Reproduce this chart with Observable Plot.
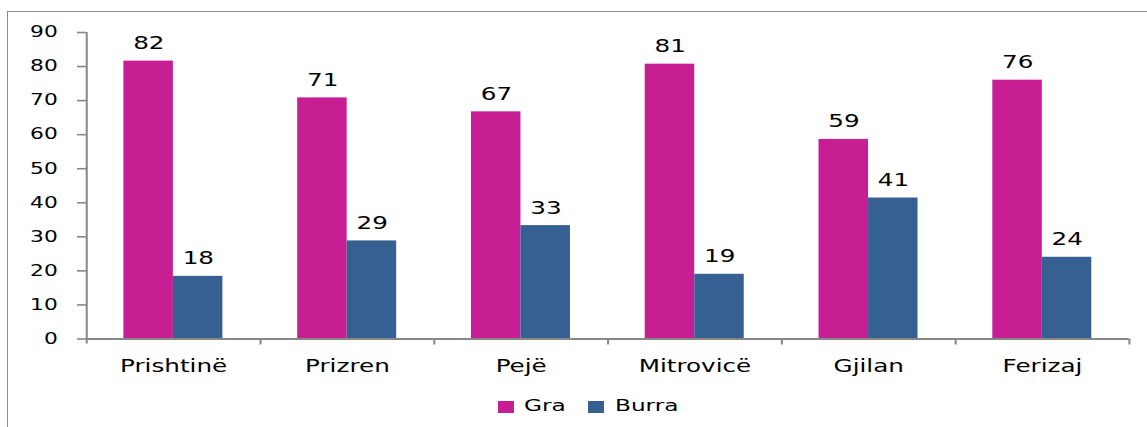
<!DOCTYPE html>
<html>
<head>
<meta charset="utf-8">
<script src="https://cdn.jsdelivr.net/npm/d3@7"></script>
<script src="https://cdn.jsdelivr.net/npm/@observablehq/plot@0.6"></script>
<style>
  html, body { margin: 0; padding: 0; background: #fff; overflow: hidden; }
  #wrap { position: relative; width: 1147px; height: 427px; font-family: "DejaVu Sans", sans-serif; }
  #frame { position: absolute; left: 7px; top: 11px; width: 1300px; height: 600px; border: 1.5px solid #8c8c8c; box-sizing: border-box; pointer-events: none; }
  #chart svg { display: block; }
  #legend { position: relative; height: 42px; font-size: 16px; color: #000; }
  #legend .sw { position: absolute; top: 16px; width: 16px; height: 12px; }
  #legend .lab { position: absolute; top: 11px; line-height: 19px; transform-origin: 0 50%; white-space: nowrap; }
</style>
</head>
<body>
<div id="wrap">
  <div id="chart"></div>
  <div id="legend"></div>
  <div id="frame"></div>
</div>
<script>
// ---- data ----
const cities = ["Prishtinë", "Prizren", "Pejë", "Mitrovicë", "Gjilan", "Ferizaj"];
const gra    = [81.6, 70.8, 66.7, 80.7, 58.6, 76.0];
const burra  = [18.4, 28.8, 33.3, 19.0, 41.4, 24.0];
const seriesNames = ["Gra", "Burra"];
const seriesColors = ["#C71E94", "#356091"];
const yTicks = [0, 10, 20, 30, 40, 50, 60, 70, 80, 90];

const rows = cities.map((c, i) => ({city: c, gra: gra[i], burra: burra[i]}));

// ---- layout (drawn narrower, then stretched horizontally like the original) ----
const S = 1.45;
const W = 1147, H = 385;
const Wp = W / S;
const ML = 86 / S, MR = 18.3 / S, MT = 32, MB = 46.5;
const step = (Wp - ML - MR) / cities.length;
const bw = 49.5 / S;
const pad = (step - 2 * bw) / 2;
const axisColor = "#878787";

const plot = Plot.plot({
  width: Wp,
  height: H,
  marginLeft: ML,
  marginRight: MR,
  marginTop: MT,
  marginBottom: MB,
  style: { fontFamily: "DejaVu Sans, sans-serif", fontSize: "17px", color: "#000", background: "transparent" },
  x: { domain: cities, padding: 0, round: false, label: null },
  y: { domain: [0, 90], label: null },
  marks: [
    Plot.barY(rows, { x: "city", y: "gra", fill: seriesColors[0], insetLeft: pad, insetRight: step - pad - bw }),
    Plot.barY(rows, { x: "city", y: "burra", fill: seriesColors[1], insetLeft: pad + bw, insetRight: pad }),
    Plot.text(rows, { x: "city", y: "gra", text: d => String(Math.round(d.gra)), dx: -bw / 2, dy: -12, lineAnchor: "bottom", fontSize: 17, fill: "#000" }),
    Plot.text(rows, { x: "city", y: "burra", text: d => String(Math.round(d.burra)), dx: bw / 2, dy: -12, lineAnchor: "bottom", fontSize: 17, fill: "#000" }),
    Plot.axisY({ ticks: yTicks, tickSize: 9 / S, tickPadding: 20 / S, fontSize: 15, stroke: axisColor, strokeWidth: 1.6, tickFormat: d => String(d), label: null }),
    Plot.axisX({ tickSize: 0, tickPadding: 21.4, fontSize: 17, label: null }),
    Plot.ruleY([0], { stroke: axisColor, strokeWidth: 2 }),
    Plot.ruleX([cities[0]], { y1: 90, y2: 0, dx: -step / 2, insetBottom: -5, stroke: axisColor, strokeWidth: 1.4 }),
    Plot.ruleX(cities, { x: d => d, y1: 0, y2: 0, dx: step / 2, insetBottom: -6, stroke: axisColor, strokeWidth: 1.4 })
  ]
});
plot.setAttribute("viewBox", `0 0 ${Wp} ${H}`);
plot.setAttribute("width", W);
plot.setAttribute("height", H);
plot.setAttribute("preserveAspectRatio", "none");
plot.style.width = W + "px";
plot.style.height = H + "px";
plot.style.maxWidth = "none";
document.getElementById("chart").appendChild(plot);

// ---- legend ----
const legend = document.getElementById("legend");
const swLeft = [498, 588], labLeft = [524, 615];
seriesNames.forEach((name, i) => {
  const sw = document.createElement("div");
  sw.className = "sw";
  sw.style.left = swLeft[i] + "px";
  sw.style.background = seriesColors[i];
  const label = document.createElement("span");
  label.className = "lab";
  label.style.left = labLeft[i] + "px";
  label.style.transform = `scaleX(${S})`;
  label.textContent = name;
  legend.appendChild(sw);
  legend.appendChild(label);
});
</script>
</body>
</html>
